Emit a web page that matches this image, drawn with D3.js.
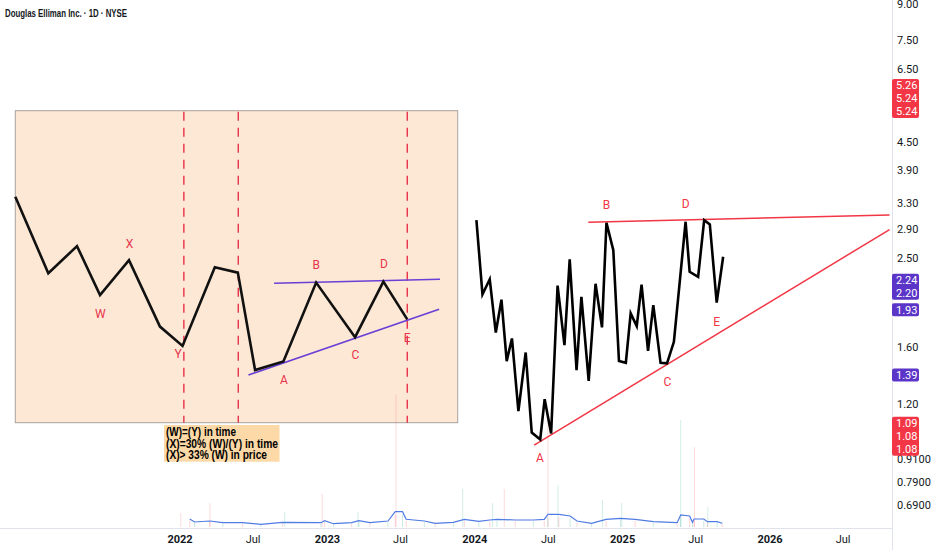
<!DOCTYPE html>
<html>
<head>
<meta charset="utf-8">
<script src="https://cdn.jsdelivr.net/npm/d3@7/dist/d3.min.js"></script>
<style>
	body { margin: 0; background: #fff; }
	svg { display: block; font-family: Roboto, Arial, sans-serif; }
</style>
</head>
<body>
<div id="chart"></div>
<script>
// --- right side: hand drawn wave path (date, price)
var waveDates = ['2024-01-05','2024-01-20','2024-02-07','2024-02-22','2024-03-07','2024-03-20','2024-04-02','2024-04-18',
	'2024-05-06','2024-05-21','2024-06-11','2024-06-22','2024-07-08','2024-07-24','2024-08-10','2024-08-23','2024-09-09',
	'2024-09-21','2024-10-09','2024-10-26','2024-11-11','2024-11-22','2024-12-09','2024-12-23','2025-01-09','2025-01-21',
	'2025-02-05','2025-02-17','2025-03-05','2025-03-18','2025-04-05','2025-04-21','2025-05-08','2025-06-06','2025-06-16',
	'2025-07-07','2025-07-22','2025-08-05','2025-08-22','2025-09-07'];
var wavePrices = [3.03, 2.085, 2.25, 1.72, 2.03, 1.49, 1.67, 1.158, 1.556, 1.04, 1.004, 1.23, 1.035, 2.18, 1.615, 2.487, 1.424,
	2.06, 1.349, 2.20, 1.766, 2.99, 2.606, 1.49, 1.477, 1.895, 1.777, 2.19, 1.569, 1.976, 1.477, 1.473, 1.642, 3.006, 2.336,
	2.278, 3.03, 2.967, 2.00, 2.52];

// triangle borders (start and end of each trend line)
var upperLineDates = ['2024-10-08', '2026-10-24'];
var upperLinePrices = [3.00, 3.11];
var lowerLineDates = ['2024-05-27', '2026-10-24'];
var lowerLinePrices = [0.976, 2.89];

var waveLabels = ['A', 'B', 'C', 'D', 'E'];
var waveLabelDates = ['2024-06-10', '2024-11-22', '2025-04-22', '2025-06-06', '2025-08-22'];
var waveLabelPrices = [0.917, 3.27, 1.34, 3.286, 1.813];

// --- volume (moving average + the visible spikes)
var volMaDates = ['2022-01-25','2022-02-06','2022-03-16','2022-04-17','2022-06-05','2022-07-20','2022-09-12','2022-12-16',
	'2022-12-25','2023-01-16','2023-03-02','2023-03-20','2023-04-16','2023-05-31','2023-06-18','2023-07-06','2023-07-15',
	'2023-08-29','2023-09-25','2023-11-09','2023-12-06','2024-01-11','2024-02-07','2024-02-25','2024-04-10','2024-05-25',
	'2024-06-21','2024-06-30','2024-07-27','2024-08-24','2024-09-10','2024-10-16','2024-11-21','2024-12-27','2025-02-01',
	'2025-03-18','2025-05-16','2025-05-25','2025-06-16','2025-06-23','2025-06-27','2025-07-21','2025-07-30','2025-08-23',
	'2025-09-05'];
var volMaValues = [0.8, 0.5, 0.6, 0.43, 0.43, 0.27, 0.47, 0.43, 0.63, 0.33, 0.43, 0.63, 0.43, 0.6, 1.53, 1.53, 0.77,
	0.6, 0.37, 0.47, 0.77, 0.57, 0.7, 0.77, 0.7, 0.7, 0.77, 1.27, 1.27, 1.1, 0.6, 0.37, 0.77, 0.87, 0.77,
	0.53, 0.43, 1.2, 1.1, 0.47, 0.8, 0.8, 0.53, 0.53, 0.37];
var volSpikeDates = ['2022-01-03','2022-03-16','2022-09-17','2022-12-19','2023-03-18','2023-06-20','2023-12-02','2024-02-14',
	'2024-03-14','2024-06-30','2024-07-25','2024-11-12','2024-12-30','2025-05-25','2025-06-28','2025-07-31'];
var volSpikeValues = [1.4, 2.4, 1.5, 3.3, 1.5, 13.2, 3.8, 2.4, 3.8, 10.7, 4.2, 2.7, 2.4, 10.7, 8.0, 2.0];
var volSpikeUp = [false, false, true, false, true, false, true, true, false, false, true, true, true, true, false, true];

// --- left: pasted sketch of the W-X-Y pattern (its own 0..100 grid)
var sketchX = [0, 7.46, 13.95, 19.15, 25.7, 32.7, 37.8, 45.1, 50.3, 54.2, 60.6, 68.0, 76.8, 83.2, 88.6];
var sketchY = [72.4, 47.9, 56.6, 40.9, 52.1, 30.8, 24.6, 49.8, 48.1, 16.9, 19.6, 44.9, 27.4, 45.2, 33.1];
var sketchUpperX = [58.5, 96.0], sketchUpperY = [44.7, 46.0];
var sketchLowerX = [52.7, 95.8], sketchLowerY = [15.3, 36.4];
var sketchTimeMarks = [38.1, 50.4, 88.6];
var sketchLabels = ['X', 'W', 'Y', 'B', 'D', 'C', 'A', 'E'];
var sketchLabelX = [25.8, 19.2, 36.8, 68.0, 83.3, 76.9, 60.7, 88.6];
var sketchLabelY = [57.5, 35.1, 22.0, 50.5, 51.1, 21.7, 13.7, 27.4];
var noteLines = ['(W)=(Y) in time', '(X)=30% (W)/(Y) in time', '(X)> 33% (W) in price'];

// --- axes
var timeTicks = ['2022-01-01','2022-07-01','2023-01-01','2023-07-01','2024-01-01','2024-07-01','2025-01-01','2025-07-01',
	'2026-01-01','2026-07-01'];
var priceTicks = [9, 7.5, 6.5, 4.5, 3.9, 3.3, 2.9, 2.5, 1.6, 1.2, 0.91, 0.79, 0.69];
var redMarkers = [[5.26, 5.24, 5.24], [1.09, 1.08, 1.08]];
var purpleMarkers = [[2.24, 2.20], [1.93], [1.39]];

var title = 'Douglas Elliman Inc. · 1D · NYSE';

(function() {
	'use strict';

	var width = 932, height = 550, axisX = 892, baseY = 528;
	var red = '#f23645', purple = '#5b34c8', text = '#131722';
	var parseDate = d3.timeParse('%Y-%m-%d');

	var x = d3.scaleTime()
		.domain([parseDate('2022-01-01'), parseDate('2026-01-01')])
		.range([180, 770]);
	// log price scale, two segments to follow the compressed bottom of the axis
	var y = d3.scaleLog()
		.domain([0.69, 0.91, 9])
		.range([505, 459, 4]);
	var v = d3.scaleLinear().domain([0, 13.2]).range([527, 395]);

	// sketch image sits in a box of its own
	var sx = d3.scaleLinear().domain([0, 100]).range([15.3, 457.7]);
	var sy = d3.scaleLinear().domain([0, 100]).range([422.7, 110.7]);

	var svg = d3.select('#chart').append('svg')
		.attr('width', width)
		.attr('height', height);

	svg.append('defs').append('clipPath').attr('id', 'plot')
		.append('rect').attr('x', 0).attr('y', 0).attr('width', axisX).attr('height', baseY);

	var plot = svg.append('g').attr('clip-path', 'url(#plot)');

	// ---------- left sketch
	var sketch = plot.append('g');
	sketch.append('rect')
		.attr('x', sx(0)).attr('y', sy(100))
		.attr('width', sx(100) - sx(0)).attr('height', sy(0) - sy(100))
		.attr('fill', '#fde8d5')
		.attr('stroke', '#a8a29e')
		.attr('stroke-width', 1);

	sketch.selectAll('line.mark')
		.data(sketchTimeMarks)
		.enter()
		.append('line')
		.attr('class', 'mark')
		.attr('x1', function(d) { return sx(d); })
		.attr('x2', function(d) { return sx(d); })
		.attr('y1', sy(100) + 1)
		.attr('y2', sy(0))
		.attr('stroke', '#e8314b')
		.attr('stroke-width', 1.4)
		.attr('stroke-dasharray', '9,7');

	var sketchLine = d3.line()
		.x(function(d) { return sx(d[0]); })
		.y(function(d) { return sy(d[1]); });

	[[sketchUpperX, sketchUpperY], [sketchLowerX, sketchLowerY]].forEach(function(l) {
		sketch.append('path')
			.attr('d', sketchLine(d3.zip(l[0], l[1])))
			.attr('stroke', '#6a3fd6')
			.attr('stroke-width', 1.6)
			.attr('fill', 'none');
	});

	sketch.append('path')
		.attr('d', sketchLine(d3.zip(sketchX, sketchY)))
		.attr('stroke', '#111')
		.attr('stroke-width', 2.6)
		.attr('stroke-linejoin', 'miter')
		.attr('fill', 'none');

	sketch.selectAll('text.lbl')
		.data(sketchLabels)
		.enter()
		.append('text')
		.attr('class', 'lbl')
		.attr('x', function(d, i) { return sx(sketchLabelX[i]); })
		.attr('y', function(d, i) { return sy(sketchLabelY[i]); })
		.attr('dy', '0.36em')
		.attr('text-anchor', 'middle')
		.style('font-size', '12px')
		.style('fill', '#e8334a')
		.text(function(d) { return d; });

	// note under the sketch
	var note = plot.append('g').attr('transform', 'translate(164,425)');
	note.append('rect')
		.attr('width', 115.5).attr('height', 36.7)
		.attr('fill', '#fcd9a6');
	var noteLen = [70, 112, 101];
	note.selectAll('text')
		.data(noteLines)
		.enter()
		.append('text')
		.attr('x', 2)
		.attr('y', function(d, i) { return 11.2 + i * 11.6; })
		.attr('textLength', function(d, i) { return noteLen[i]; })
		.attr('lengthAdjust', 'spacingAndGlyphs')
		.style('font-family', '"Liberation Sans Narrow", "Liberation Sans", Arial, sans-serif')
		.style('font-weight', 'bold')
		.style('font-size', '12px')
		.style('fill', '#000')
		.text(function(d) { return d; });

	// ---------- volume
	var maData = volMaDates.map(function(d, i) { return {date: parseDate(d), value: volMaValues[i]}; });
	var spikes = volSpikeDates.map(function(d, i) { return {date: parseDate(d), value: volSpikeValues[i], up: volSpikeUp[i]}; });

	plot.selectAll('rect.vbase')
		.data(maData)
		.enter()
		.append('rect')
		.attr('class', 'vbase')
		.attr('x', function(d) { return x(d.date) - 0.5; })
		.attr('y', function(d) { return v(d.value * 0.8); })
		.attr('width', 1)
		.attr('height', function(d) { return v(0) - v(d.value * 0.8); })
		.attr('fill', function(d, i) { return i % 2 ? 'rgba(8,153,129,0.22)' : 'rgba(242,54,69,0.22)'; });

	plot.selectAll('rect.spike')
		.data(spikes)
		.enter()
		.append('rect')
		.attr('class', 'spike')
		.attr('x', function(d) { return x(d.date) - 0.5; })
		.attr('y', function(d) { return v(d.value); })
		.attr('width', 1)
		.attr('height', function(d) { return v(0) - v(d.value); })
		.attr('fill', function(d) { return d.up ? 'rgba(8,153,129,0.18)' : 'rgba(242,54,69,0.18)'; });

	plot.append('path')
		.datum(maData)
		.attr('d', d3.line()
			.x(function(d) { return x(d.date); })
			.y(function(d) { return v(d.value); }))
		.attr('stroke', '#4f7be3')
		.attr('stroke-width', 1.2)
		.attr('fill', 'none');

	// ---------- right wave with triangle
	var priceLine = d3.line()
		.x(function(d) { return x(parseDate(d[0])); })
		.y(function(d) { return y(d[1]); });

	[[upperLineDates, upperLinePrices], [lowerLineDates, lowerLinePrices]].forEach(function(l) {
		plot.append('path')
			.attr('d', priceLine(d3.zip(l[0], l[1])))
			.attr('stroke', red)
			.attr('stroke-width', 1.5)
			.attr('fill', 'none');
	});

	plot.append('path')
		.attr('d', priceLine(d3.zip(waveDates, wavePrices)))
		.attr('stroke', '#000')
		.attr('stroke-width', 2.6)
		.attr('fill', 'none');

	plot.selectAll('text.wave')
		.data(waveLabels)
		.enter()
		.append('text')
		.attr('class', 'wave')
		.attr('x', function(d, i) { return x(parseDate(waveLabelDates[i])); })
		.attr('y', function(d, i) { return y(waveLabelPrices[i]); })
		.attr('dy', '0.36em')
		.attr('text-anchor', 'middle')
		.style('font-size', '12px')
		.style('fill', red)
		.text(function(d) { return d; });

	// ---------- axes
	svg.append('line')
		.attr('x1', 0).attr('x2', axisX)
		.attr('y1', baseY + 0.5).attr('y2', baseY + 0.5)
		.attr('stroke', '#e0e3eb');
	svg.append('line')
		.attr('x1', axisX + 0.5).attr('x2', axisX + 0.5)
		.attr('y1', 0).attr('y2', height)
		.attr('stroke', '#e0e3eb');

	svg.selectAll('text.tx')
		.data(timeTicks.map(parseDate))
		.enter()
		.append('text')
		.attr('class', 'tx')
		.attr('x', function(d) { return x(d); })
		.attr('y', 543)
		.attr('text-anchor', 'middle')
		.style('font-size', '11px')
		.style('font-weight', function(d) { return d.getMonth() === 0 ? 'bold' : 'normal'; })
		.style('fill', text)
		.text(function(d) { return d.getMonth() === 0 ? d3.timeFormat('%Y')(d) : 'Jul'; });

	svg.selectAll('text.ty')
		.data(priceTicks)
		.enter()
		.append('text')
		.attr('class', 'ty')
		.attr('x', 897)
		.attr('y', function(d) { return y(d); })
		.attr('dy', '0.36em')
		.style('font-size', '11px')
		.style('fill', text)
		.text(function(d) { return d < 1 ? d3.format('.4f')(d) : d3.format('.2f')(d); });

	// price markers, stacked like the platform does
	function markers(groups, color, anchorBottom) {
		groups.forEach(function(vals, gi) {
			var rowH = 13, n = vals.length;
			var first = anchorBottom[gi] ? y(vals[n - 1]) - (n - 1) * rowH : y(vals[0]);
			var g = svg.append('g');
			g.append('rect')
				.attr('x', axisX)
				.attr('y', first - rowH / 2)
				.attr('width', 27)
				.attr('height', n * rowH)
				.attr('rx', 2)
				.attr('fill', color);
			g.selectAll('text')
				.data(vals)
				.enter()
				.append('text')
				.attr('x', 896)
				.attr('y', function(d, i) { return first + i * rowH; })
				.attr('dy', '0.36em')
				.style('font-size', '11px')
				.style('fill', '#fff')
				.text(function(d) { return d3.format('.2f')(d); });
		});
	}
	markers(redMarkers, red, [true, false]);
	markers(purpleMarkers, purple, [false, false, false]);

	// title
	svg.append('text')
		.attr('x', 5)
		.attr('y', 17)
		.attr('textLength', 122)
		.attr('lengthAdjust', 'spacingAndGlyphs')
		.style('font-family', '"Liberation Sans Narrow", "Liberation Sans", Arial, sans-serif')
		.style('font-weight', 'bold')
		.style('font-size', '11px')
		.style('fill', text)
		.text(title);
})();
</script>
</body>
</html>
